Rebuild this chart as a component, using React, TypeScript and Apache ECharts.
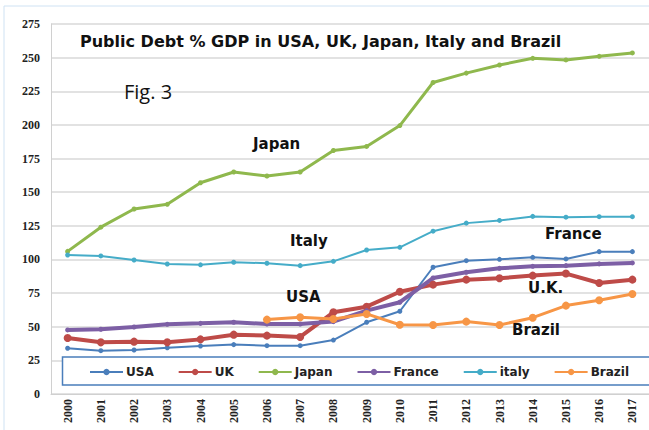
import React, { useEffect, useRef } from "react";
import * as echarts from "echarts";

const years = ["2000","2001","2002","2003","2004","2005","2006","2007","2008","2009","2010","2011","2012","2013","2014","2015","2016","2017"];
const yTicks = { min: 0, max: 275, interval: 25 };

const usa = [34, 32.2, 32.7, 34.4, 35.7, 36.7, 35.9, 35.9, 40.1, 53.3, 61.5, 94.2, 99.1, 100.1, 101.6, 100.4, 105.8, 105.8];
const uk = [41.6, 38.4, 38.9, 38.4, 40.6, 44.1, 43.4, 42.4, 60.7, 64.9, 76, 81.3, 85, 86, 88, 89.5, 82.5, 85];
const japan = [106, 124, 137.5, 141, 157, 165, 162, 165, 181, 184, 199.5, 231.5, 238.5, 244.5, 249.5, 248.3, 251, 253.5];
const france = [47.6, 48.1, 49.8, 51.8, 52.5, 53.3, 52, 52, 53.8, 62, 68.2, 86.2, 90.5, 93.4, 94.9, 95.4, 96.7, 97.4];
const italy = [103.3, 102.6, 99.6, 96.6, 96, 97.9, 97.2, 95.4, 98.6, 107, 109, 121, 127, 129, 132, 131.4, 131.8, 131.8];
const brazil = [null, null, null, null, null, null, 55.3, 57, 55.8, 59.5, 51.5, 51.3, 53.8, 51.3, 56.7, 65.7, 69.7, 74.3];

const titleText = "Public Debt % GDP in USA, UK, Japan, Italy and Brazil";
const figText = "Fig. 3";
const notes = [
  { text: "Japan", x: 253, y: 144 },
  { text: "Italy", x: 290, y: 241 },
  { text: "USA", x: 286, y: 297 },
  { text: "France", x: 545, y: 234 },
  { text: "U.K.", x: 528, y: 288 },
  { text: "Brazil", x: 512, y: 330 },
];

export default function App() {
  const ref = useRef<HTMLDivElement>(null);
  useEffect(() => {
    if (!ref.current) return;
    const chart = echarts.init(ref.current, null, { renderer: "svg" });
    const mk = (name: string, data: any[], color: string, width: number, size: number) => ({
      name,
      type: "line",
      data,
      symbol: "circle",
      symbolSize: size,
      lineStyle: { color, width },
      itemStyle: { color },
      z: 3,
    });
    chart.setOption({
      animation: false,
      backgroundColor: "#ffffff",
      grid: { left: 51, top: 24, width: 600, bottom: 36, containLabel: false },
      xAxis: {
        type: "category",
        data: years,
        boundaryGap: true,
        axisLine: { show: true, lineStyle: { color: "#d0d0d0", width: 1 } },
        axisTick: { show: false },
        axisLabel: {
          rotate: 90,
          interval: 0,
          color: "#222",
          fontFamily: "Liberation Serif",
          fontWeight: "bold",
          fontSize: 12,
          margin: 5,
        },
      },
      yAxis: {
        type: "value",
        min: yTicks.min,
        max: yTicks.max,
        interval: yTicks.interval,
        axisLine: { show: true, lineStyle: { color: "#d0d0d0", width: 1 } },
        axisTick: { show: false },
        splitLine: { lineStyle: { color: "#d9d9d9", width: 1.5 } },
        axisLabel: {
          color: "#222",
          fontFamily: "Liberation Serif",
          fontWeight: "bold",
          fontSize: 12,
          margin: 11,
        },
      },
      legend: {
        left: 89,
        top: 366,
        padding: 0,
        itemWidth: 33,
        itemHeight: 8,
        itemGap: 24,
        z: 6,
        textStyle: { fontFamily: "DejaVu Sans", fontWeight: "bold", fontSize: 12, color: "#222", padding: [0, 0, 0, -2] },
        data: ["USA", "UK", "Japan", "France", "italy", "Brazil"],
      },
      graphic: [
        { type: "rect", z: -10, silent: true, shape: { x: 4, y: 6, width: 700, height: 500 }, style: { fill: "none", stroke: "#cfe2f3", lineWidth: 1 } },
        { type: "rect", z: 1, silent: true, shape: { x: 62.5, y: 357, width: 620, height: 28 }, style: { fill: "#ffffff", stroke: "#4a7ebb", lineWidth: 1.5 } },
        { type: "text", z: 5, x: 80, y: 41, style: { text: titleText, fontFamily: "DejaVu Sans", fontWeight: "bold", fontSize: 16, fill: "#111", verticalAlign: "middle" } },
        { type: "text", z: 5, x: 124, y: 91, style: { text: figText, fontFamily: "Open Sans", fontSize: 20, fill: "#111", verticalAlign: "middle" } },
        ...notes.map((n) => ({
          type: "text", z: 5, x: n.x, y: n.y,
          style: { text: n.text, fontFamily: "DejaVu Sans", fontWeight: "bold", fontSize: 15, fill: "#111", verticalAlign: "middle" },
        })),
      ],
      series: [
        mk("USA", usa, "#4a7ebb", 2, 5),
        mk("UK", uk, "#be4b48", 4, 8),
        mk("Japan", japan, "#8fb84d", 3, 5),
        mk("France", france, "#7d5fa5", 4, 5),
        mk("italy", italy, "#45acc8", 2, 5),
        mk("Brazil", brazil, "#f79646", 3, 8),
      ],
    });
    return () => chart.dispose();
  }, []);
  return <div ref={ref} style={{ position: "absolute", left: 0, top: 0, width: 649, height: 430 }} />;
}
